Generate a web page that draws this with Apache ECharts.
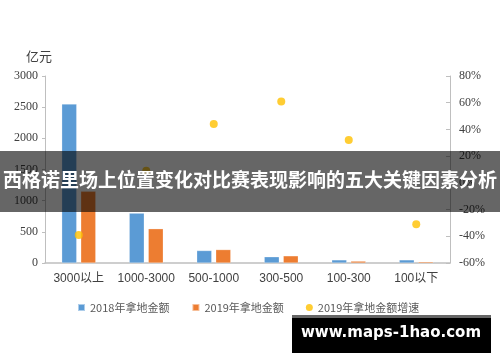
<!DOCTYPE html>
<html>
<head>
<meta charset="utf-8">
<script src="https://cdn.jsdelivr.net/npm/echarts@6/dist/echarts.min.js"></script>
<style>html,body{margin:0;padding:0;background:#fff}#c{width:500px;height:362px}</style>
</head>
<body>
<div id="c"></div>
<script>
const categories = ['3000以上', '1000-3000', '500-1000', '300-500', '100-300', '100以下'];
const amount2018 = [2550, 800, 200, 100, 50, 50];
const amount2019 = [1150, 550, 215, 115, 30, 20];
const growth2019 = [-39, 9, 44, 61, 32, -31];
const leftTicks = { min: 0, max: 3000, interval: 500 };
const rightTicks = { min: -60, max: 80, interval: 20 };
const seriesNames = ['2018年拿地金额', '2019年拿地金额', '2019年拿地金额增速'];
const unitLabel = '亿元';
const bannerText = '西格诺里场上位置变化对比赛表现影响的五大关键因素分析';
const watermarkText = 'www.maps-1hao.com';

const chart = echarts.init(document.getElementById('c'), null, { renderer: 'canvas' });
const numFont = '"Liberation Serif", serif';
chart.setOption({
  animation: false,
  backgroundColor: '#ffffff',
  grid: { left: 45, right: 50, top: 76, bottom: 99 },
  legend: {
    left: 72, top: 297,
    itemWidth: 7, itemHeight: 7, itemGap: 22,
    textStyle: { fontSize: 11, color: '#595959', fontFamily: '"Noto Sans CJK SC", sans-serif' },
    data: [
      { name: seriesNames[0], icon: 'rect' },
      { name: seriesNames[1], icon: 'rect' },
      { name: seriesNames[2], icon: 'circle' }
    ]
  },
  xAxis: {
    type: 'category', data: categories,
    axisLine: { lineStyle: { color: '#bfbfbf', width: 1.5 } },
    axisTick: { show: false },
    axisLabel: { interval: 0, color: '#404040', fontSize: 12, margin: 10, fontFamily: '"Liberation Sans", "Noto Sans CJK SC", sans-serif' }
  },
  yAxis: [
    {
      type: 'value', min: leftTicks.min, max: leftTicks.max, interval: leftTicks.interval,
      axisLine: { show: true, lineStyle: { color: '#bfbfbf' } },
      axisTick: { show: true, length: 3, lineStyle: { color: '#bfbfbf' } },
      splitLine: { show: false },
      axisLabel: { color: '#404040', fontSize: 12, margin: 7, fontFamily: numFont, formatter: v => String(v) }
    },
    {
      type: 'value', min: rightTicks.min, max: rightTicks.max, interval: rightTicks.interval,
      position: 'right',
      axisLine: { show: true, lineStyle: { color: '#bfbfbf' } },
      axisTick: { show: true, inside: true, length: 4, lineStyle: { color: '#bfbfbf' } },
      splitLine: { show: false },
      axisLabel: { color: '#404040', fontSize: 12, margin: 9, fontFamily: numFont, formatter: '{value}%' }
    }
  ],
  series: [
    {
      name: seriesNames[0], type: 'bar', data: amount2018, barWidth: 15, barGap: '27%',
      itemStyle: { color: '#5b9bd5', borderColor: 'rgba(255,255,255,0.5)', borderWidth: 0.5 }
    },
    {
      name: seriesNames[1], type: 'bar', data: amount2019, barWidth: 15,
      itemStyle: { color: '#ed7d31', borderColor: 'rgba(255,255,255,0.5)', borderWidth: 0.5 }
    },
    {
      name: seriesNames[2], type: 'scatter', yAxisIndex: 1, data: growth2019,
      symbolSize: 8, itemStyle: { color: '#ffc000' }
    }
  ],
  graphic: [
    {
      type: 'text', left: 26, top: 50, z: 50,
      style: { text: unitLabel, fill: '#404040', font: '13px "Noto Sans CJK SC", sans-serif' }
    },
    {
      type: 'rect', left: 0, top: 151, z: 100,
      shape: { width: 500, height: 61 },
      style: { fill: 'rgba(0,0,0,0.6)' }
    },
    {
      type: 'text', left: 'center', top: 170, z: 101,
      style: { text: bannerText, fill: '#ffffff', font: 'bold 19px "Noto Sans CJK SC", sans-serif' }
    },
    {
      type: 'rect', left: 292, top: 315, z: 100,
      shape: { width: 199, height: 38 },
      style: { fill: '#000000' }
    },
    {
      type: 'rect', left: 292, top: 315, z: 101,
      shape: { width: 199, height: 3 },
      style: { fill: '#666666' }
    },
    {
      type: 'text', left: 301, top: 326, z: 102,
      style: { text: watermarkText, fill: '#ffffff', font: 'bold 15px "DejaVu Sans", sans-serif' }
    }
  ]
});
</script>
</body>
</html>
